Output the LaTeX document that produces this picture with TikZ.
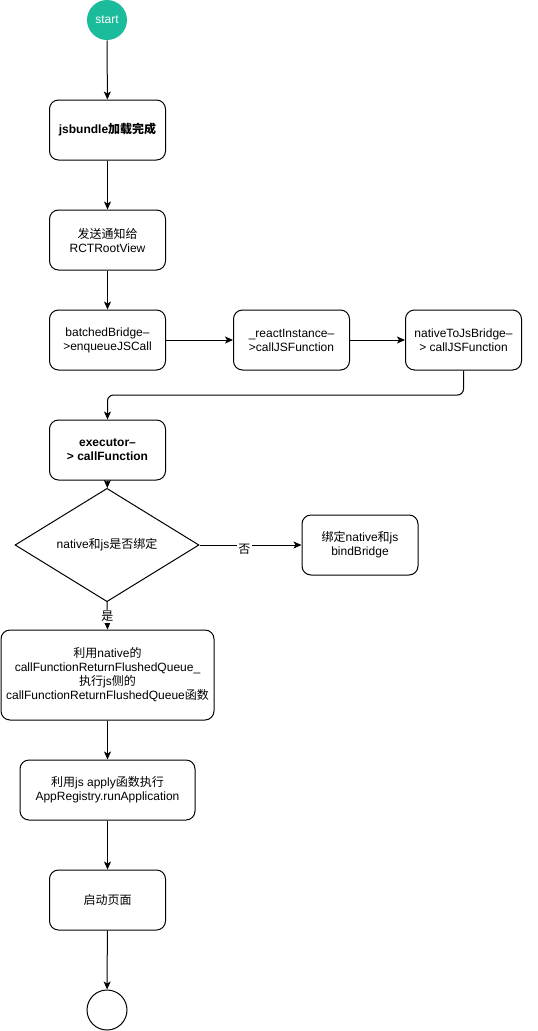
\documentclass[tikz,border=0pt]{standalone}
\usepackage{fontspec}
\setmainfont{Liberation Sans}
\newfontfamily\cjk{Noto Sans CJK SC}
\usetikzlibrary{shapes.geometric,arrows.meta}
\definecolor{startgreen}{HTML}{1ABC9C}
\tikzset{
  base/.style={line width=1pt, font=\fontsize{12}{14}\selectfont, align=center, inner sep=0pt},
  stepbox/.style={base, draw, rounded corners=9pt, minimum width=116pt, minimum height=60pt},
  decision/.style={base, draw, diamond, minimum width=184pt, minimum height=80pt},
  startnode/.style={base, circle, fill=startgreen, text=white, minimum size=40pt},
  endnode/.style={base, circle, draw, minimum size=40pt},
  arr/.style={line width=1pt, -{Stealth[length=8pt,width=7pt,inset=2pt]}},
  lbl/.style={font=\fontsize{12}{14}\selectfont, fill=white, inner sep=1.5pt}
}
\begin{document}
\begin{tikzpicture}[x=1pt,y=-1pt]
\useasboundingbox (0,0) rectangle (538,1031);
\node[startnode] (start) at (107,20) {start};
\node[stepbox, font=\fontsize{12}{14}\selectfont\bfseries] (load) at (107.5,130) {jsbundle{\cjk\bfseries 加载完成}};
\node[stepbox] (notify) at (107.5,240) {{\cjk 发送通知给}\\RCTRootView};
\node[stepbox] (batched) at (107.5,340) {batchedBridge--\\>enqueueJSCall};
\node[stepbox] (react) at (291.5,340) {\_reactInstance--\\>callJSFunction};
\node[stepbox] (native) at (463.5,340) {nativeToJsBridge--\\> callJSFunction};
\node[stepbox, font=\fontsize{12}{14}\selectfont\bfseries] (exec) at (107.5,450) {executor--\\> callFunction};
\node[decision] (dia) at (107,545) {native{\cjk 和}js{\cjk 是否绑定}};
\node[stepbox] (bind) at (360,545) {{\cjk 绑定}native{\cjk 和}js\\bindBridge};
\node[stepbox, minimum width=213pt, minimum height=90pt] (queue) at (107.5,675)
  {{\cjk 利用}native{\cjk 的}\\callFunctionReturnFlushedQueue\_\\{\cjk 执行}js{\cjk 侧的}\\callFunctionReturnFlushedQueue{\cjk 函数}};
\node[stepbox, minimum width=175pt] (apply) at (107.5,790) {{\cjk 利用}js apply{\cjk 函数执行}\\AppRegistry.runApplication};
\node[stepbox] (launch) at (107.5,900) {{\cjk 启动页面}};
\node[endnode] (stop) at (107,1010) {};
\coordinate (turn) at (107.5,395);

\draw[arr] (start) -- (load);
\draw[arr] (load) -- (notify);
\draw[arr] (notify) -- (batched);
\draw[arr] (batched) -- (react);
\draw[arr] (react) -- (native);
\draw[arr, rounded corners=6pt] (native.south) |- (turn) -- (exec.north);
\draw[arr] (exec) -- (dia);
\draw[arr] (dia.east) -- (bind.west) node[lbl, pos=0.44, yshift=-4pt] (no) {\cjk 否};
\draw[arr] (dia.south) -- (queue.north) node[lbl, pos=0.52] (yes) {\cjk 是};
\draw[arr] (queue) -- (apply);
\draw[arr] (apply) -- (launch);
\draw[arr] (launch) -- (stop);
\end{tikzpicture}
\end{document}
